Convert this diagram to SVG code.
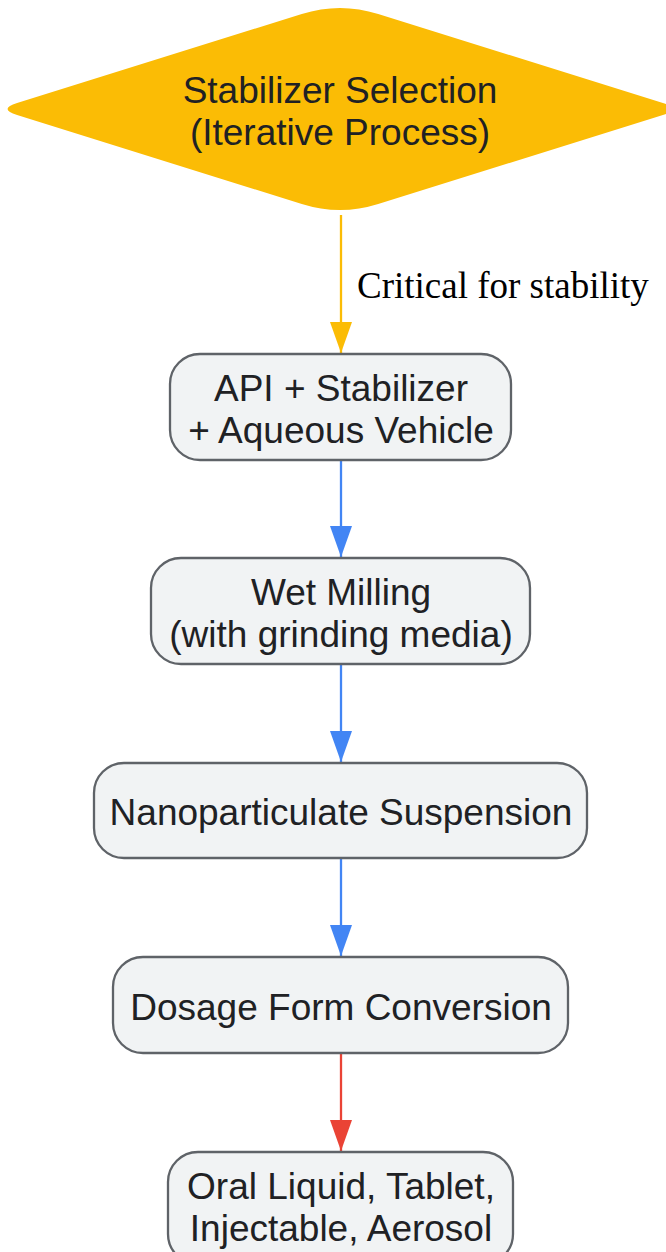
<svg xmlns="http://www.w3.org/2000/svg" width="666" height="1252" viewBox="0 0 666 1252">
<style>
.node rect{fill:#F1F3F4;stroke:#5F6368;stroke-width:2.3}
.t{font-family:"Liberation Sans",Arial,sans-serif;font-size:37px;fill:#202124;text-anchor:middle}
.lbl{font-family:"Liberation Serif","Times New Roman",serif;font-size:37px;fill:#000}
.e{fill:none;stroke-width:2.3}
</style>
<defs>
<marker id="aY" viewBox="0 0 10 10" refX="10" refY="5" markerUnits="userSpaceOnUse" markerWidth="31" markerHeight="22" orient="auto" preserveAspectRatio="none"><path d="M0,0L10,5L0,10z" fill="#FBBC05"/></marker>
<marker id="aB" viewBox="0 0 10 10" refX="10" refY="5" markerUnits="userSpaceOnUse" markerWidth="31" markerHeight="22" orient="auto" preserveAspectRatio="none"><path d="M0,0L10,5L0,10z" fill="#4285F4"/></marker>
<marker id="aR" viewBox="0 0 10 10" refX="10" refY="5" markerUnits="userSpaceOnUse" markerWidth="31" markerHeight="22" orient="auto" preserveAspectRatio="none"><path d="M0,0L10,5L0,10z" fill="#EA4335"/></marker>
</defs>
<g id="connectors">
<path class="e" d="M341,215V353" stroke="#FBBC05" marker-end="url(#aY)"/>
<path class="e" d="M341,460V557" stroke="#4285F4" marker-end="url(#aB)"/>
<path class="e" d="M341,664V762" stroke="#4285F4" marker-end="url(#aB)"/>
<path class="e" d="M341,858V956" stroke="#4285F4" marker-end="url(#aB)"/>
<path class="e" d="M341,1053V1151" stroke="#EA4335" marker-end="url(#aR)"/>
<text class="lbl" x="357" y="298">Critical for stability</text>
</g>
<g id="stabilizer">
<path d="M301.8,14Q340,2 378.2,14L662.9,103Q682,109 662.9,115L378.2,204Q340,216 301.8,204L17.1,115Q-2,109 17.1,103Z" fill="#FBBC05"/>
<text class="t" x="340" y="103">Stabilizer Selection</text>
<text class="t" x="340" y="145">(Iterative Process)</text>
</g>
<g id="mix" class="node">
<rect x="170" y="354" width="341" height="106" rx="30"/>
<text class="t" x="341" y="401">API + Stabilizer</text>
<text class="t" x="341" y="443">+ Aqueous Vehicle</text>
</g>
<g id="milling" class="node">
<rect x="151" y="558" width="379" height="106" rx="30"/>
<text class="t" x="341" y="605">Wet Milling</text>
<text class="t" x="341" y="647">(with grinding media)</text>
</g>
<g id="suspension" class="node">
<rect x="94" y="763" width="493" height="95" rx="30"/>
<text class="t" x="341" y="825">Nanoparticulate Suspension</text>
</g>
<g id="conversion" class="node">
<rect x="113" y="957" width="455" height="96" rx="30"/>
<text class="t" x="341" y="1020">Dosage Form Conversion</text>
</g>
<g id="forms" class="node">
<rect x="168" y="1152" width="345" height="112" rx="30"/>
<text class="t" x="341" y="1199">Oral Liquid, Tablet,</text>
<text class="t" x="341" y="1241">Injectable, Aerosol</text>
</g>
</svg>
